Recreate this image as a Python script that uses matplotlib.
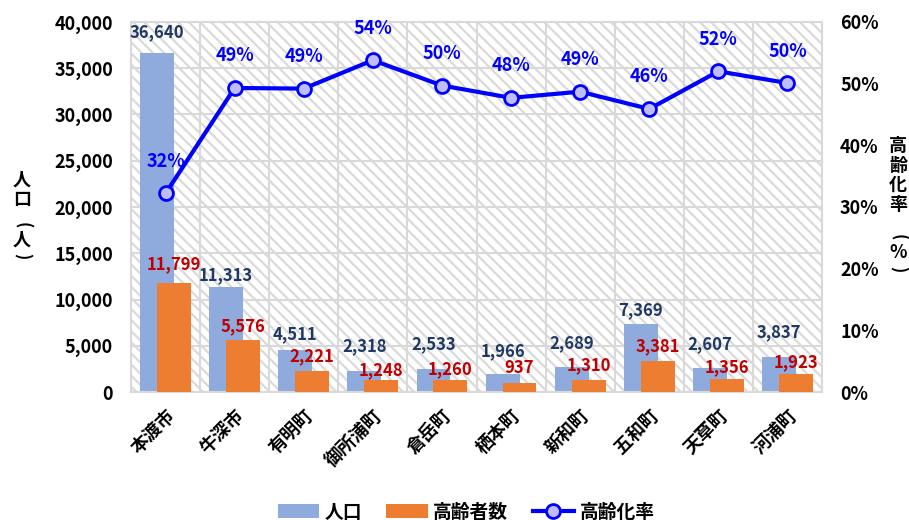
import numpy as np
import matplotlib
matplotlib.use('Agg')
import matplotlib.pyplot as plt
from matplotlib.patches import Rectangle, Patch
from matplotlib.lines import Line2D
from matplotlib.ticker import FuncFormatter

plt.rcParams['font.family'] = ['Noto Sans CJK JP', 'DejaVu Sans']
plt.rcParams['hatch.linewidth'] = 1.6
plt.rcParams['hatch.color'] = '#dadada'

# ---- data ----
categories = ['本渡市', '牛深市', '有明町', '御所浦町', '倉岳町', '栖本町', '新和町', '五和町', '天草町', '河浦町']
population = [36640, 11313, 4511, 2318, 2533, 1966, 2689, 7369, 2607, 3837]
elderly = [11799, 5576, 2221, 1248, 1260, 937, 1310, 3381, 1356, 1923]
elderly_rate = [0.322, 0.493, 0.492, 0.538, 0.497, 0.477, 0.487, 0.459, 0.520, 0.501]
rate_labels = ['32%', '49%', '49%', '54%', '50%', '48%', '49%', '46%', '52%', '50%']

# label offsets above bar tops (pixels)
pop_label_offset_px = [21, 12, 16, 24, 24, 23, 24, 14, 24, 24]
eld_label_offset_px = [19, 14, 15, 10, 11, 15, 15, 15, 12, 12]
rate_label_offset_px = 32

# ---- styles ----
c_pop = '#8FAADC'
c_eld = '#ED7D31'
c_line = '#0000FF'
c_pop_lbl = '#1F3864'
c_eld_lbl = '#C00000'
grid_c = '#d9d9d9'
PX = 0.72  # points per pixel at dpi 100

W, H = 909, 520
fig = plt.figure(figsize=(W / 100, H / 100), dpi=100)
L, R, T, B = 131, 822, 22, 392
ax = fig.add_axes([L / W, 1 - B / H, (R - L) / W, (B - T) / H])

# hatched background
bg = Rectangle((0, 0), 1, 1, transform=ax.transAxes, facecolor='white',
               edgecolor='#dadada', hatch='\\\\\\', linewidth=0, zorder=0)
ax.add_patch(bg)
ax.set_axisbelow(True)

x = np.arange(len(categories))
bw = 0.49
off = 0.1225
ax.bar(x - off, population, width=bw, color=c_pop, zorder=2)
ax.bar(x + off, elderly, width=bw, color=c_eld, zorder=3)

for i in range(len(categories)):
    ax.annotate(f'{population[i]:,}', (x[i] - off, population[i]),
                xytext=(0, pop_label_offset_px[i] * PX), textcoords='offset points',
                ha='center', va='center', fontsize=12, fontweight='bold',
                color=c_pop_lbl, zorder=5)
    ax.annotate(f'{elderly[i]:,}', (x[i] + off, elderly[i]),
                xytext=(0, eld_label_offset_px[i] * PX), textcoords='offset points',
                ha='center', va='center', fontsize=12, fontweight='bold',
                color=c_eld_lbl, zorder=5)

ax.set_xlim(-0.5, len(categories) - 0.5)
ax.set_ylim(0, 40000)
ax.set_yticks(np.arange(0, 40001, 5000))
ax.yaxis.set_major_formatter(FuncFormatter(lambda v, p: f'{v:,.0f}'))
ax.set_xticks(x)
ax.set_xticklabels(categories, rotation=45, ha='right', rotation_mode='anchor',
                   fontsize=13, fontweight='bold')
ax.set_xticks(np.arange(-0.5, len(categories), 1), minor=True)
ax.yaxis.grid(True, color=grid_c, lw=1.5)
ax.xaxis.grid(True, which='minor', color=grid_c, lw=1.5)
ax.tick_params(axis='x', which='both', length=0, pad=10)
ax.tick_params(axis='y', length=0, pad=13, labelsize=13)
for lbl in ax.get_yticklabels():
    lbl.set_fontweight('bold')
for s in ax.spines.values():
    s.set_color(grid_c)
    s.set_linewidth(1.5)

ax2 = ax.twinx()
ax2.plot(x, elderly_rate, color=c_line, lw=3, marker='o', ms=10,
         mfc='#BDBDFF', mec=c_line, mew=2, zorder=4)
for i in range(len(categories)):
    ax2.annotate(rate_labels[i], (x[i], elderly_rate[i]),
                 xytext=(0, rate_label_offset_px * PX), textcoords='offset points',
                 ha='center', va='center', fontsize=13, fontweight='bold', color=c_line)
ax2.set_ylim(0, 0.6)
ax2.set_yticks(np.arange(0, 0.61, 0.1))
ax2.yaxis.set_major_formatter(FuncFormatter(lambda v, p: f'{v * 100:.0f}%'))
ax2.tick_params(axis='y', length=0, pad=13, labelsize=13)
for lbl in ax2.get_yticklabels():
    lbl.set_fontweight('bold')
for s in ax2.spines.values():
    s.set_visible(False)


# axis titles (vertical writing), one glyph per line
def vtext(xpx, ypx, s, rot=0, size=13):
    fig.text(xpx / W, 1 - ypx / H, s, ha='center', va='center', rotation=rot,
             fontsize=size, fontweight='bold')


left_title = [('人', 180, 0), ('口', 200, 0), ('(', 225, -90), ('人', 240, 0), (')', 256, -90)]
for ch, yy, rot in left_title:
    vtext(22, yy, ch, rot, 13 if rot == 0 else 12)

right_title = [('高', 145, 0), ('齢', 165, 0), ('化', 185, 0), ('率', 205, 0),
               ('(', 237, -90), ('%', 253, 0), (')', 269, -90)]
for ch, yy, rot in right_title:
    vtext(898, yy, ch, rot, 13 if rot == 0 else 12)

handles = [Patch(facecolor=c_pop, label='人口'),
           Patch(facecolor=c_eld, label='高齢者数'),
           Line2D([0], [0], color=c_line, lw=3, marker='o', ms=10, mfc='#BDBDFF',
                  mec=c_line, mew=2, label='高齢化率')]
leg = fig.legend(handles=handles, loc='center', bbox_to_anchor=(466 / W, 1 - 512 / H),
                 ncol=3, frameon=False, fontsize=13.5, handlelength=2.2,
                 handletextpad=0.3, columnspacing=1.3)
for t in leg.get_texts():
    t.set_fontweight('bold')

fig.savefig('out.png', dpi=100)
